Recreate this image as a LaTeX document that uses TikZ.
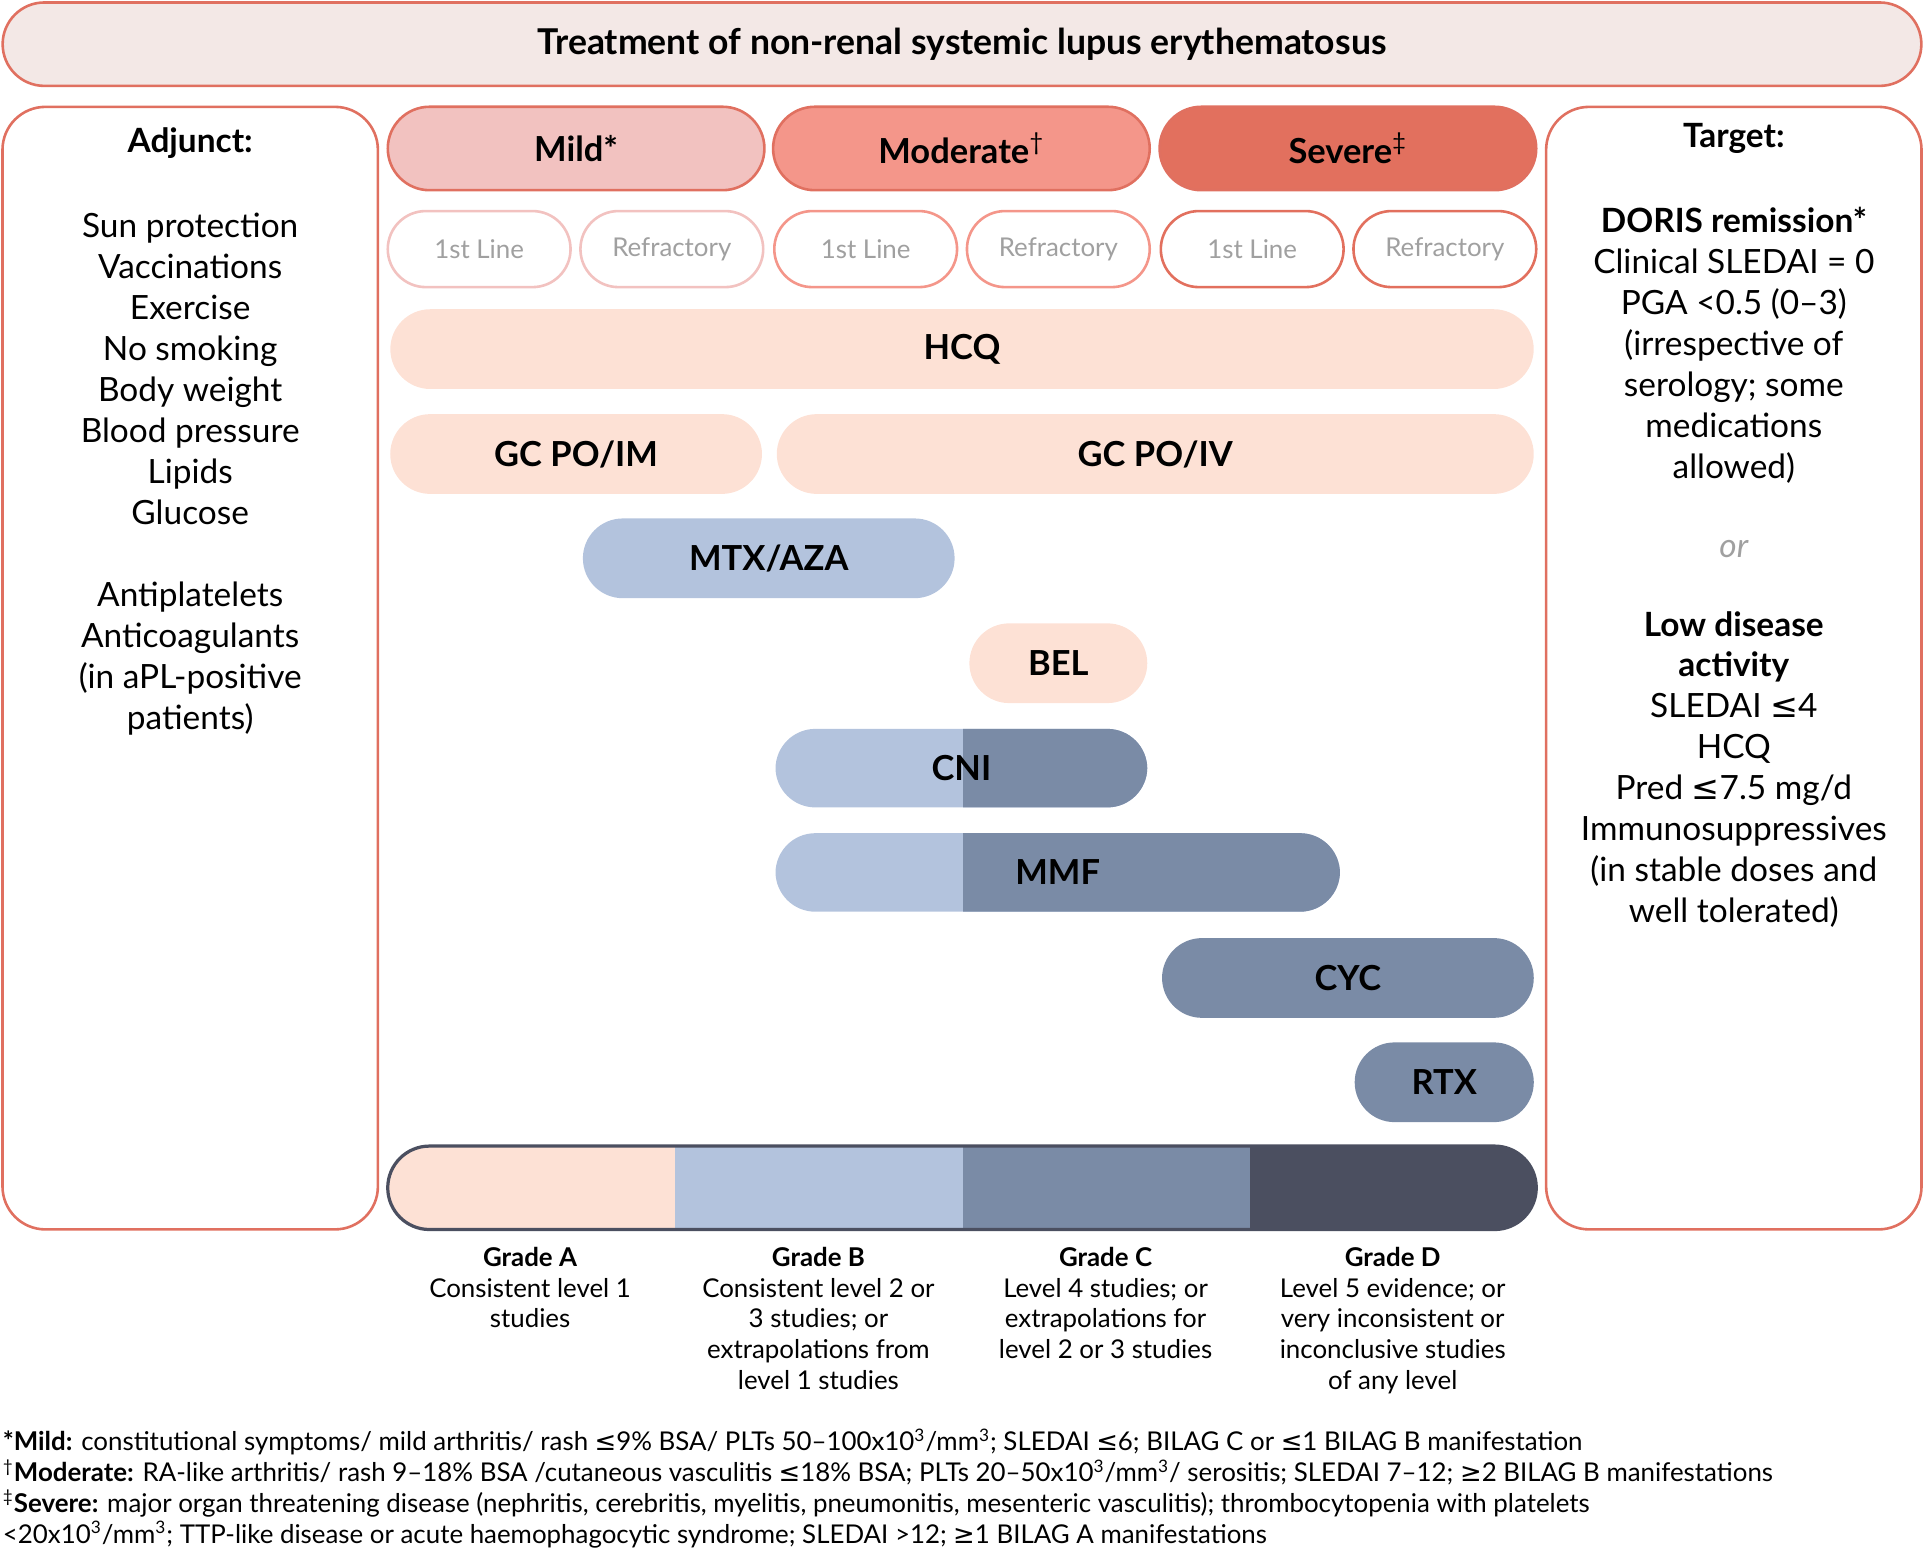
\documentclass[tikz,border=0pt]{standalone}
\usepackage{fontspec}
\setmainfont{Lato}
\newfontfamily\symfont{DejaVu Sans}
\usetikzlibrary{positioning}
\definecolor{salmon}{HTML}{E07060}
\definecolor{titlefill}{HTML}{F3E8E6}
\definecolor{mildfill}{HTML}{F2C2C0}
\definecolor{modfill}{HTML}{F4968A}
\definecolor{sevfill}{HTML}{E2705E}
\definecolor{peach}{HTML}{FDE1D5}
\definecolor{lblue}{HTML}{B3C3DD}
\definecolor{mblue}{HTML}{7A8BA6}
\definecolor{dblue}{HTML}{4B4F60}
\definecolor{greytext}{HTML}{A0A0A0}
\newcommand{\sle}{{\symfont ≤}}
\newcommand{\sge}{{\symfont ≥}}
\begin{document}
\begin{tikzpicture}[x=0.02cm,y=-0.02cm,
  box/.style={draw=salmon,line width=1.2pt,rounded corners=0.7cm,minimum width=6.12cm,minimum height=18.3cm},
  head/.style={draw=salmon,line width=1.2pt,rounded corners=0.68cm,minimum width=6.14cm,minimum height=1.36cm,font=\fontsize{16}{18}\selectfont\bfseries},
  line/.style={fill=white,line width=1.2pt,rounded corners=0.62cm,minimum width=2.98cm,minimum height=1.24cm,text=greytext,font=\fontsize{12}{14}\selectfont},
  drug/.style={rounded corners=0.65cm,minimum height=1.3cm,font=\fontsize{16}{18}\selectfont\bfseries,inner sep=0pt},
  side/.style={align=center,font=\fontsize{15.5}{19}\selectfont},
  grade/.style={align=center,anchor=north,font=\fontsize{12}{14.3}\selectfont}]
\useasboundingbox (0,0) rectangle (1568,1265);
% title
\node[draw=salmon,fill=titlefill,line width=1.2pt,rounded corners=0.68cm,minimum width=31.28cm,minimum height=1.36cm,font=\fontsize{16.5}{18}\selectfont\bfseries] (title) at (784,36) {Treatment of non-renal systemic lupus erythematosus};
% side boxes
\node[box] (adjbox) at (155,544.5) {};
\node[box] (tgtbox) at (1413,544.5) {};
\node[side,anchor=north] (adjunct) at (155,98) {\textbf{Adjunct:}\\[0.72cm]Sun protection\\Vaccinations\\Exercise\\No smoking\\Body weight\\Blood pressure\\Lipids\\Glucose\\[0.67cm]Antiplatelets\\Anticoagulants\\(in aPL-positive\\patients)};
\node[side,anchor=north] (target) at (1413,94) {\textbf{Target:}\\[0.72cm]\textbf{DORIS remission*}\\Clinical SLEDAI = 0\\PGA <0.5 (0--3)\\(irrespective of\\serology; some\\medications\\allowed)\\[0.62cm]{\color{greytext}\itshape or}\\[0.62cm]\textbf{Low disease}\\\textbf{activity}\\SLEDAI \sle4\\HCQ\\Pred \sle7.5 mg/d\\Immunosuppressives\\(in stable doses and\\well tolerated)};
% severity headers
\node[head,fill=mildfill] (mild) at (469.5,121) {Mild*};
\node[head,fill=modfill] (moderate) at (783.5,121) {Moderate\textsuperscript{\textmd{\dag}}};
\node[head,fill=sevfill] (severe) at (1098.5,121) {Severe\textsuperscript{\textmd{\ddag}}};
\node[line,draw=mildfill] (mildA) at (390.5,203) {1st Line};
\node[line,draw=mildfill] (mildB) at (547.5,203) {Refractory};
\node[line,draw=modfill] (modA) at (705.5,203) {1st Line};
\node[line,draw=modfill] (modB) at (862.5,203) {Refractory};
\node[line,draw=sevfill] (sevA) at (1020.5,203) {1st Line};
\node[line,draw=sevfill] (sevB) at (1177.5,203) {Refractory};
% drugs
\node[drug,fill=peach,minimum width=18.64cm] (hcq) at (784,284.5) {HCQ};
\node[drug,fill=peach,minimum width=6.06cm] (gcim) at (469.5,370) {GC PO/IM};
\node[drug,fill=peach,minimum width=12.34cm] (gciv) at (941.5,370) {GC PO/IV};
\node[drug,fill=lblue,minimum width=6.06cm] (mtx) at (626.5,455) {MTX/AZA};
\node[drug,fill=peach,minimum width=2.9cm] (bel) at (862.5,540.5) {BEL};
\begin{scope}
  \fill[lblue,rounded corners=0.65cm] (632,594) rectangle (935,658);
  \clip (785,580) rectangle (950,670);
  \fill[mblue,rounded corners=0.65cm] (632,594) rectangle (935,658);
\end{scope}
\node[font=\fontsize{16}{18}\selectfont\bfseries] (cni) at (783.5,626) {CNI};
\begin{scope}
  \fill[lblue,rounded corners=0.65cm] (632,679) rectangle (1092,743);
  \clip (785,670) rectangle (1100,750);
  \fill[mblue,rounded corners=0.65cm] (632,679) rectangle (1092,743);
\end{scope}
\node[font=\fontsize{16}{18}\selectfont\bfseries] (mmf) at (862,711) {MMF};
\node[drug,fill=mblue,minimum width=6.06cm] (cyc) at (1098.5,797) {CYC};
\node[drug,fill=mblue,minimum width=2.92cm] (rtx) at (1177,882) {RTX};
% grade bar
\begin{scope}
  \clip[rounded corners=0.68cm] (316,934) rectangle (1252,1002);
  \fill[peach] (316,934) rectangle (550,1002);
  \fill[lblue] (550,934) rectangle (785,1002);
  \fill[mblue] (785,934) rectangle (1019,1002);
  \fill[dblue] (1019,934) rectangle (1252,1002);
\end{scope}
\draw[dblue,line width=1.5pt,rounded corners=0.68cm] (316,934) rectangle (1252,1002);
\node[grade] (gA) at (432,1010) {\textbf{Grade A}\\Consistent level 1\\studies};
\node[grade] (gB) at (667,1010) {\textbf{Grade B}\\Consistent level 2 or\\3 studies; or\\extrapolations from\\level 1 studies};
\node[grade] (gC) at (901,1010) {\textbf{Grade C}\\Level 4 studies; or\\extrapolations for\\level 2 or 3 studies};
\node[grade] (gD) at (1135,1010) {\textbf{Grade D}\\Level 5 evidence; or\\very inconsistent or\\inconclusive studies\\of any level};
% footnotes
\node[anchor=north west,align=left,inner sep=0pt,font=\fontsize{12}{14.3}\selectfont] (notes) at (2,1164) {\textbf{*Mild:} constitutional symptoms/ mild arthritis/ rash \sle9\% BSA/ PLTs 50--100x10\textsuperscript{3}/mm\textsuperscript{3}; SLEDAI \sle6; BILAG C or \sle1 BILAG B manifestation\\
\textsuperscript{\dag}\textbf{Moderate:} RA-like arthritis/ rash 9--18\% BSA /cutaneous vasculitis \sle18\% BSA; PLTs 20--50x10\textsuperscript{3}/mm\textsuperscript{3}/ serositis; SLEDAI 7--12; \sge2 BILAG B manifestations\\
\textsuperscript{\ddag}\textbf{Severe:} major organ threatening disease (nephritis, cerebritis, myelitis, pneumonitis, mesenteric vasculitis); thrombocytopenia with platelets\\
<20x10\textsuperscript{3}/mm\textsuperscript{3}; TTP-like disease or acute haemophagocytic syndrome; SLEDAI >12; \sge1 BILAG A manifestations};
\end{tikzpicture}
\end{document}
